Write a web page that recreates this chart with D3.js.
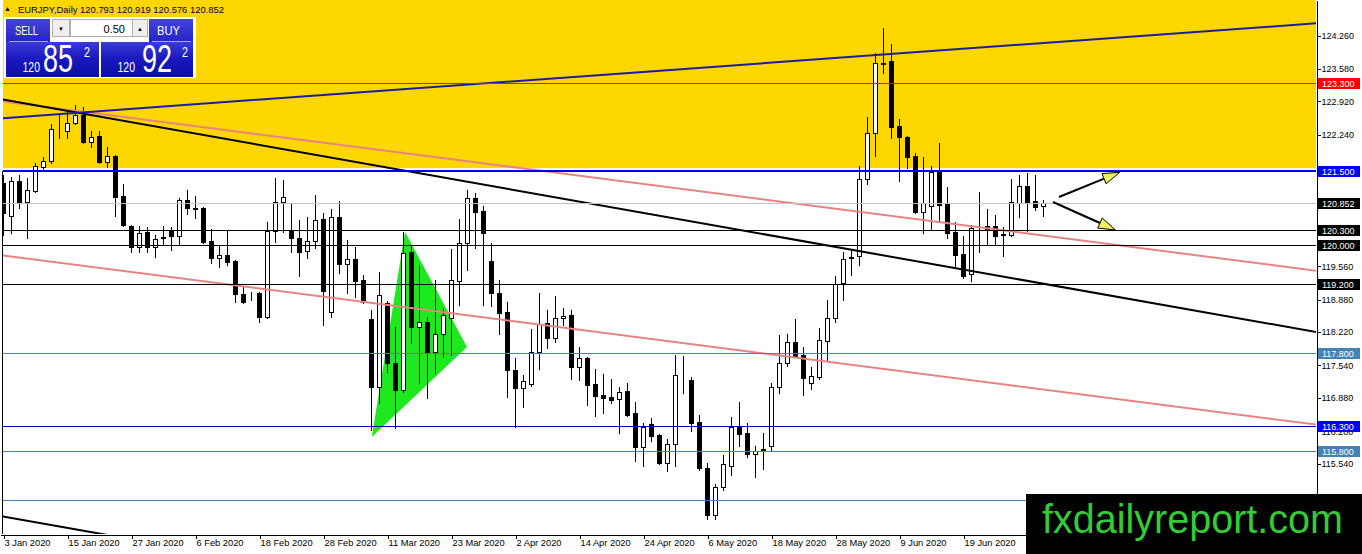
<!DOCTYPE html>
<html><head><meta charset="utf-8">
<script src="https://cdn.jsdelivr.net/npm/d3@7"></script>
<style>
html,body{margin:0;padding:0;background:#fff;overflow:hidden}
svg{display:block}
text{font-family:"Liberation Sans",Arial,sans-serif}
</style></head><body>
<svg id="chart" width="1362" height="554"></svg>
<script>
// ---------------- DATA ----------------
const symbolTitle = "EURJPY,Daily";
const lastQuote = [120.793, 120.919, 120.576, 120.852];
const firstDate = "2020-01-03";

const opens = [121.258,120.591,121.305,120.877,121.101,121.590,121.706,122.338,122.324,122.475,
122.644,122.100,122.216,121.692,121.808,120.993,120.381,119.947,120.259,119.960,
120.163,120.286,120.178,120.911,120.742,120.754,120.076,119.723,119.790,119.668,
118.995,118.975,119.010,118.520,120.280,120.865,120.286,120.131,119.866,120.082,
120.524,118.635,120.559,119.601,119.703,119.281,118.486,117.094,118.818,117.583,
117.039,119.858,118.317,118.431,117.819,118.174,118.500,119.266,120.029,120.946,
120.693,119.674,119.010,118.622,117.446,117.073,117.161,117.807,118.398,118.092,
118.500,118.567,117.514,117.697,117.161,116.937,116.902,116.849,117.018,116.576,
115.883,116.346,116.121,115.557,115.938,117.344,117.242,116.393,115.443,114.491,
115.055,115.490,116.291,116.156,115.734,115.830,115.897,117.094,117.583,118.011,
117.752,117.188,117.297,118.044,118.500,119.213,119.743,119.770,121.333,122.283,
123.698,123.751,122.420,122.202,121.808,120.673,120.795,121.488,120.830,120.259,
119.811,119.397,120.388,120.388,120.381,120.212,120.192,120.856,121.197,120.885,120.793];
const highs = [121.421,121.380,121.421,121.360,121.672,121.794,122.454,122.644,122.711,122.848,
122.801,122.324,122.324,121.986,121.829,121.231,120.402,120.381,120.367,120.198,
120.381,120.367,120.946,121.115,120.993,120.770,120.314,119.994,120.300,119.680,
119.144,119.042,119.042,120.469,121.354,121.319,120.844,120.504,120.559,121.013,
120.640,120.722,120.897,120.096,119.947,119.383,118.669,119.450,118.859,118.329,
120.265,119.994,119.587,118.533,119.281,118.704,119.907,120.518,121.115,121.048,
120.789,120.029,119.281,118.838,117.685,117.344,118.276,119.010,118.669,118.955,
118.704,118.669,117.921,117.717,117.461,117.365,117.263,117.106,117.175,116.800,
116.360,116.462,116.142,116.034,117.752,117.732,117.297,116.529,115.557,115.123,
115.714,116.494,116.800,116.360,115.897,116.156,117.188,118.160,118.180,118.486,
117.921,117.514,118.296,118.873,119.362,119.858,119.892,121.604,122.597,123.902,
124.411,124.091,122.556,122.210,121.863,121.794,121.604,122.079,121.182,120.469,
120.178,120.402,121.068,120.722,120.606,120.355,121.333,121.421,121.456,121.421,120.919];
const lows = [120.198,120.239,120.748,120.137,121.081,121.523,121.672,122.169,122.169,122.460,
122.067,121.998,121.659,121.578,120.585,120.381,119.858,119.858,119.858,119.743,
119.994,119.892,120.015,120.626,120.538,120.029,119.633,119.552,119.587,118.838,
118.806,118.873,118.431,118.500,120.061,120.265,119.858,119.362,119.723,119.927,
118.364,118.533,119.417,119.010,118.940,118.806,116.223,116.768,117.412,116.258,
117.004,117.997,117.175,116.869,117.379,117.717,117.752,118.771,119.485,119.927,
118.771,118.751,118.180,116.902,116.291,116.686,117.120,117.461,117.889,118.023,
118.364,117.263,117.242,116.733,116.509,116.576,116.780,116.168,116.509,115.598,
115.490,116.005,115.530,115.394,115.490,116.971,116.209,115.408,114.403,114.403,
115.000,115.306,115.897,115.679,115.271,115.422,115.816,116.984,117.528,117.717,
116.937,117.053,117.257,117.650,118.431,118.873,119.383,119.587,121.238,121.808,
123.506,122.169,121.305,121.558,120.653,120.233,120.300,120.469,120.131,119.552,
119.315,119.266,119.858,120.015,120.015,119.770,120.178,120.559,120.286,120.708,120.576];
const closes = [120.646,121.305,120.877,121.115,121.604,121.706,122.352,122.330,122.475,122.638,
122.100,122.202,121.692,121.808,120.979,120.402,119.947,120.245,119.960,120.123,
120.131,120.184,120.911,120.742,120.736,120.061,119.723,119.790,119.654,118.995,
118.826,118.965,118.520,120.280,120.865,120.966,120.131,119.858,120.082,120.504,
119.063,120.559,119.601,119.703,119.266,118.838,117.106,118.975,117.583,117.039,
119.837,118.317,118.431,117.819,118.174,118.567,119.281,120.029,120.946,120.673,
120.245,119.010,118.602,117.446,117.073,117.228,117.807,118.378,118.092,118.500,
118.547,117.514,117.685,117.141,116.916,116.882,116.835,117.004,116.529,115.883,
116.291,116.101,115.557,115.938,117.344,117.334,116.372,115.443,114.491,115.055,
115.524,116.291,116.142,115.734,115.801,115.801,117.094,117.583,118.011,117.732,
117.277,117.324,118.058,118.500,119.193,119.703,119.733,121.333,122.283,123.698,
123.688,122.405,122.189,121.794,120.673,120.844,121.488,120.809,120.245,119.790,
119.368,120.335,120.378,120.314,120.178,120.202,120.877,121.197,120.877,120.775,120.852];

const tickLabels = ["3 Jan 2020","15 Jan 2020","27 Jan 2020","6 Feb 2020","18 Feb 2020","28 Feb 2020",
"11 Mar 2020","23 Mar 2020","2 Apr 2020","14 Apr 2020","24 Apr 2020","6 May 2020","18 May 2020",
"28 May 2020","9 Jun 2020","19 Jun 2020","1 Jul 2020"];
const priceTicks = [124.26,123.58,122.92,122.24,120.24,119.56,118.88,118.22,117.54,116.88,116.20,115.54];

const levelPrices = [123.3, 121.5, 120.852, 120.3, 120.0, 119.2, 117.8, 116.3, 115.8, 114.8];
const zonePrices = [121.56, 125.5];           // yellow resistance zone
const trendBars = [0, 160];
const trendBlueUp = [122.58, 124.464];
const trendBlackDown = [122.96, 118.34];
const trendBlackLow = [114.46, 109.84];
const trendPinkUp = [122.92, 119.556];
const trendPinkLow = [119.78, 116.42];
const triangleBars = [46.1, 50.25, 58];
const trianglePrices = [116.08, 120.26, 117.915];
const arrowStartBars = [132, 131.25];
const arrowStartPrices = [120.973, 120.871];
const arrowEndBars = [139.6, 139.06];
const arrowEndPrices = [121.476, 120.300];
const lotSize = "0.50";
const sellQuote = ["120", "85", "2"];
const buyQuote = ["120", "92", "2"];
const watermark = "fxdailyreport.com";

// ---------------- STYLE ----------------
const levelColors = ["#ff1010","#0000e6","#c0c0c0","#000","#000","#000","#4682b4","#0000c0","#4682b4","#4682b4"];
const levelWidths = [1,2,1,1,1,1,1,1,1,1];
const levelBoxColors = ["#ff0000","#0000ff","#000","#000","#000","#000","#4682b4","#0000ff","#4682b4","#4682b4"];

// ---------------- SETUP ----------------
const W = 1362, H = 554, plotL = 3, plotR = 1316, plotB = 534;
const svg = d3.select("#chart");
const N = closes.length;
const fmtDate = d3.timeFormat("%-d %b %Y");
const dates = [];
for (let d = d3.timeParse("%Y-%m-%d")(firstDate); dates.length < N + 5; d = d3.timeDay.offset(d, 1)) {
  if (d.getDay() % 6) dates.push(d);
}
const x = d3.scaleLinear().domain([-0.375, 164.125]).range([0, plotR]);
const y = d3.scaleLinear().domain([124.988, 114.103]).range([0, plotB]);
const fmt3 = d3.format(".3f");

const defs = svg.append("defs");
defs.append("clipPath").attr("id","plotClip").append("rect")
  .attr("x", plotL).attr("y", 0).attr("width", plotR - plotL).attr("height", plotB);
const gBig = defs.append("linearGradient").attr("id","gBig").attr("x1",0).attr("y1",0).attr("x2",0).attr("y2",1);
gBig.append("stop").attr("offset","0").attr("stop-color","#3b3bd8");
gBig.append("stop").attr("offset","0.45").attr("stop-color","#1a1ac0");
gBig.append("stop").attr("offset","1").attr("stop-color","#0c0ca6");
const gBtn = defs.append("linearGradient").attr("id","gBtn").attr("x1",0).attr("y1",0).attr("x2",0).attr("y2",1);
gBtn.append("stop").attr("offset","0").attr("stop-color","#4444dd");
gBtn.append("stop").attr("offset","1").attr("stop-color","#2424c8");

svg.append("rect").attr("width", W).attr("height", H).attr("fill", "#fff");

const plot = svg.append("g").attr("clip-path","url(#plotClip)");

// yellow zone
plot.append("rect")
  .attr("x", plotL).attr("width", plotR - plotL)
  .attr("y", y(zonePrices[1])).attr("height", y(zonePrices[0]) - y(zonePrices[1]))
  .attr("fill", "#ffd700");

// left frame
svg.append("line").attr("x1", 2.5).attr("x2", 2.5).attr("y1", y(121.5)).attr("y2", plotB)
  .attr("stroke", "#000").attr("stroke-width", 1);

// triangle
plot.append("polygon")
  .attr("points", triangleBars.map((b, k) => [x(b), y(trianglePrices[k])].join(",")).join(" "))
  .attr("fill", "#1ee81e");

// candles
const bars = d3.range(N).map(i => ({i, o: opens[i], h: highs[i], l: lows[i], c: closes[i]}));
const cg = plot.append("g").attr("shape-rendering", "crispEdges");
cg.selectAll("line.wick").data(bars).join("line")
  .attr("x1", d => Math.round(x(d.i)) + 0.5).attr("x2", d => Math.round(x(d.i)) + 0.5)
  .attr("y1", d => Math.round(y(d.h))).attr("y2", d => Math.round(y(d.l)) + 1)
  .attr("stroke", "#000").attr("stroke-width", 1);
cg.selectAll("rect.body").data(bars).join("rect")
  .attr("x", d => Math.round(x(d.i)) - 1.5).attr("width", 4)
  .attr("y", d => Math.round(y(Math.max(d.o, d.c))) + 0.5)
  .attr("height", d => Math.max(0, Math.round(y(Math.min(d.o, d.c))) - Math.round(y(Math.max(d.o, d.c)))))
  .attr("fill", d => d.c >= d.o ? "#fff" : "#000")
  .attr("stroke", "#000").attr("stroke-width", 1);

// trend lines
function trend(prices, color, w) {
  const slope = (prices[1] - prices[0]) / (trendBars[1] - trendBars[0]);
  const b0 = -2, b1 = 170;
  plot.append("line")
    .attr("x1", x(b0)).attr("y1", y(prices[0] + slope * (b0 - trendBars[0])))
    .attr("x2", x(b1)).attr("y2", y(prices[0] + slope * (b1 - trendBars[0])))
    .attr("stroke", color).attr("stroke-width", w);
}
trend(trendPinkUp, "#e98383", 2);
trend(trendPinkLow, "#e98383", 2);
trend(trendBlackDown, "#000", 2);
trend(trendBlackLow, "#000", 2);
trend(trendBlueUp, "#1c1ca0", 2);

// horizontal levels
const lg = plot.append("g").attr("shape-rendering", "crispEdges");
levelPrices.forEach((p, k) => {
  const yy = levelWidths[k] === 2 ? Math.round(y(p)) : Math.round(y(p)) + 0.5;
  lg.append("line").attr("x1", plotL).attr("x2", plotR).attr("y1", yy).attr("y2", yy)
    .attr("stroke", levelColors[k]).attr("stroke-width", levelWidths[k]);
});

// arrows
arrowStartBars.forEach((b, k) => {
  const x0 = x(b), y0 = y(arrowStartPrices[k]);
  const x1 = x(arrowEndBars[k]), y1 = y(arrowEndPrices[k]);
  const len = Math.hypot(x1 - x0, y1 - y0), ux = (x1 - x0) / len, uy = (y1 - y0) / len;
  const hl = 17, hw = 5.5;
  const bx = x1 - ux * hl, by = y1 - uy * hl;
  plot.append("line").attr("x1", x0).attr("y1", y0).attr("x2", bx).attr("y2", by)
    .attr("stroke", "#000").attr("stroke-width", 2);
  plot.append("polygon")
    .attr("points", [[x1, y1], [bx - uy * hw, by + ux * hw], [bx + uy * hw, by - ux * hw]].map(p => p.join(",")).join(" "))
    .attr("fill", "#f0f060").attr("stroke", "#000").attr("stroke-width", 1);
});

// right axis
const yAxis = d3.axisRight(y).tickValues(priceTicks).tickFormat(fmt3).tickSize(4).tickSizeOuter(0).tickPadding(1);
const ya = svg.append("g").attr("transform", `translate(${plotR + 0.5},0)`).call(yAxis);
ya.select(".domain").attr("stroke", "#000").attr("shape-rendering", "crispEdges");
ya.selectAll(".tick line").attr("stroke", "#000").attr("shape-rendering", "crispEdges");
ya.selectAll(".tick text").attr("fill", "#000").style("font-size", "9px")
  .style("font-family", '"Liberation Sans", Arial, sans-serif');

// level label boxes
levelPrices.forEach((p, k) => {
  const yy = Math.round(y(p));
  svg.append("rect").attr("x", plotR + 2).attr("y", yy - 5).attr("width", 42).attr("height", 11)
    .attr("fill", levelBoxColors[k]);
  svg.append("text").attr("x", plotR + 6).attr("y", yy + 3.5).attr("fill", "#fff")
    .style("font-size", "9px").text(fmt3(p));
});

// bottom axis
const tickIdx = tickLabels.map(l => dates.findIndex(d => fmtDate(d) === l));
const labelOf = new Map(tickIdx.map((ix, k) => [ix, tickLabels[k]]));
const xAxis = d3.axisBottom(x).tickValues(tickIdx).tickFormat(i => labelOf.get(i)).tickSize(4).tickSizeOuter(0);
const xa = svg.append("g").attr("transform", `translate(0,${plotB + 0.5})`).call(xAxis);
xa.select(".domain").attr("stroke", "#000").attr("shape-rendering", "crispEdges");
xa.selectAll(".tick line").attr("stroke", "#000").attr("shape-rendering", "crispEdges")
  .attr("transform", "translate(0.5,0)");
xa.selectAll(".tick text").attr("fill", "#000").attr("text-anchor", "start").attr("x", 1).attr("y", 5)
  .style("font-size", "9.3px").style("font-family", '"Liberation Sans", Arial, sans-serif');

// header
svg.append("text").attr("x", 4).attr("y", 11).style("font-size", "7px").attr("fill", "#000").text("▲");
svg.append("text").attr("x", 18).attr("y", 12.5).style("font-size", "9px").attr("fill", "#000")
  .attr("textLength", 206).attr("lengthAdjust", "spacingAndGlyphs")
  .text(symbolTitle + "  " + lastQuote.map(fmt3).join(" "));

// trade panel
const tp = svg.append("g");
tp.append("rect").attr("x", 4).attr("y", 17).attr("width", 192).attr("height", 61).attr("fill", "#fff");
tp.append("rect").attr("x", 6).attr("y", 19).attr("width", 44).attr("height", 23).attr("fill", "url(#gBtn)");
tp.append("rect").attr("x", 149).attr("y", 19).attr("width", 44).attr("height", 23).attr("fill", "url(#gBtn)");
tp.append("rect").attr("x", 6).attr("y", 42).attr("width", 93).attr("height", 35).attr("fill", "url(#gBig)");
tp.append("rect").attr("x", 101).attr("y", 42).attr("width", 92).attr("height", 35).attr("fill", "url(#gBig)");
tp.append("line").attr("x1", 9).attr("x2", 48).attr("y1", 41.5).attr("y2", 41.5).attr("stroke", "#a8a8f0");
tp.append("line").attr("x1", 152).attr("x2", 191).attr("y1", 41.5).attr("y2", 41.5).attr("stroke", "#a8a8f0");
tp.append("rect").attr("x", 52.5).attr("y", 19.5).attr("width", 17).attr("height", 17).attr("fill", "#efefef").attr("stroke", "#b0b0b0");
tp.append("rect").attr("x", 70.5).attr("y", 19.5).attr("width", 62).attr("height", 17).attr("fill", "#fff").attr("stroke", "#b0b0b0");
tp.append("rect").attr("x", 132.5).attr("y", 19.5).attr("width", 15).attr("height", 17).attr("fill", "#efefef").attr("stroke", "#b0b0b0");
tp.append("text").attr("x", 61).attr("y", 31).attr("text-anchor", "middle").style("font-size", "6px").text("▼");
tp.append("text").attr("x", 140).attr("y", 31).attr("text-anchor", "middle").style("font-size", "6px").text("▲");
tp.append("text").attr("x", 125).attr("y", 32.5).attr("text-anchor", "end").style("font-size", "11px").attr("fill", "#000").text(lotSize);
function tx(t, xx, yy, fs, tl) {
  tp.append("text").attr("x", xx).attr("y", yy).attr("fill", "#fff").style("font-size", fs + "px")
    .attr("textLength", tl).attr("lengthAdjust", "spacingAndGlyphs").text(t);
}
tx("SELL", 15, 35, 12, 23);
tx("BUY", 157, 35, 12, 23);
tx(sellQuote[0], 22.5, 71.5, 14, 17.5);
tx(sellQuote[1], 43, 72, 38, 30);
tx(sellQuote[2], 84, 57, 14, 6);
tx(buyQuote[0], 117.5, 71.5, 14, 17.5);
tx(buyQuote[1], 142, 72, 38, 30);
tx(buyQuote[2], 182, 57, 14, 6);

// watermark
svg.append("rect").attr("x", 1026).attr("y", 494).attr("width", W - 1026).attr("height", H - 494).attr("fill", "#000");
svg.append("text").attr("x", 1042).attr("y", 533).attr("fill", "#33cc33").style("font-size", "40px")
  .attr("textLength", 301).attr("lengthAdjust", "spacingAndGlyphs").text(watermark);
</script>
</body></html>
